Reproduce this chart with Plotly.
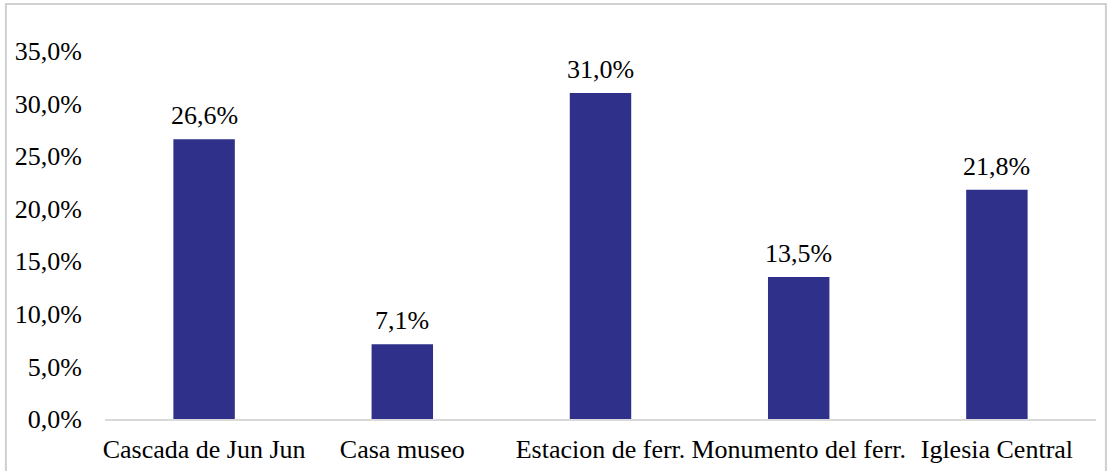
import plotly.graph_objects as go

categories = ["Cascada de Jun Jun", "Casa museo", "Estacion de ferr.", "Monumento del ferr.", "Iglesia Central"]
values = [0.266, 0.071, 0.310, 0.135, 0.218]
tick_vals = [0, 0.05, 0.10, 0.15, 0.20, 0.25, 0.30, 0.35]

FONT = "Liberation Serif, Times New Roman, serif"
BAR = "#2E3089"
FS = 26

fig = go.Figure(go.Bar(x=categories, y=values, marker=dict(color=BAR, line=dict(width=0)), width=0.31))

for c, v in zip(categories, values):
    fig.add_annotation(x=c, y=v, text=f"{v*100:.1f}%".replace(".", ","), showarrow=False,
                       yanchor="bottom", yshift=7, font=dict(family=FONT, size=FS, color="black"))

fig.add_shape(type="rect", xref="paper", yref="paper", x0=-0.1, x1=1.01, y0=-0.2, y1=1.128,
              line=dict(color="#D0D0D0", width=2), layer="above")

fig.update_layout(
    width=1109, height=471,
    margin=dict(l=105, r=13, t=51, b=52),
    paper_bgcolor="white", plot_bgcolor="white",
    separators=",.",
    font=dict(family=FONT, size=FS, color="black"),
    showlegend=False,
    bargap=0.69,
    xaxis=dict(showline=True, linecolor="#D9D9D9", linewidth=1.5, ticks="", showgrid=False,
               ticklabelstandoff=6, tickfont=dict(size=FS), automargin=False),
    yaxis=dict(range=[0, 0.35], tickvals=tick_vals, tickformat=".1%", showgrid=False, zeroline=False,
               showline=False, ticks="", ticklabelstandoff=22, tickfont=dict(size=FS), automargin=False),
)
fig.write_html("out.html", config={"displayModeBar": False},
               post_script="document.body.style.margin='0px';")
